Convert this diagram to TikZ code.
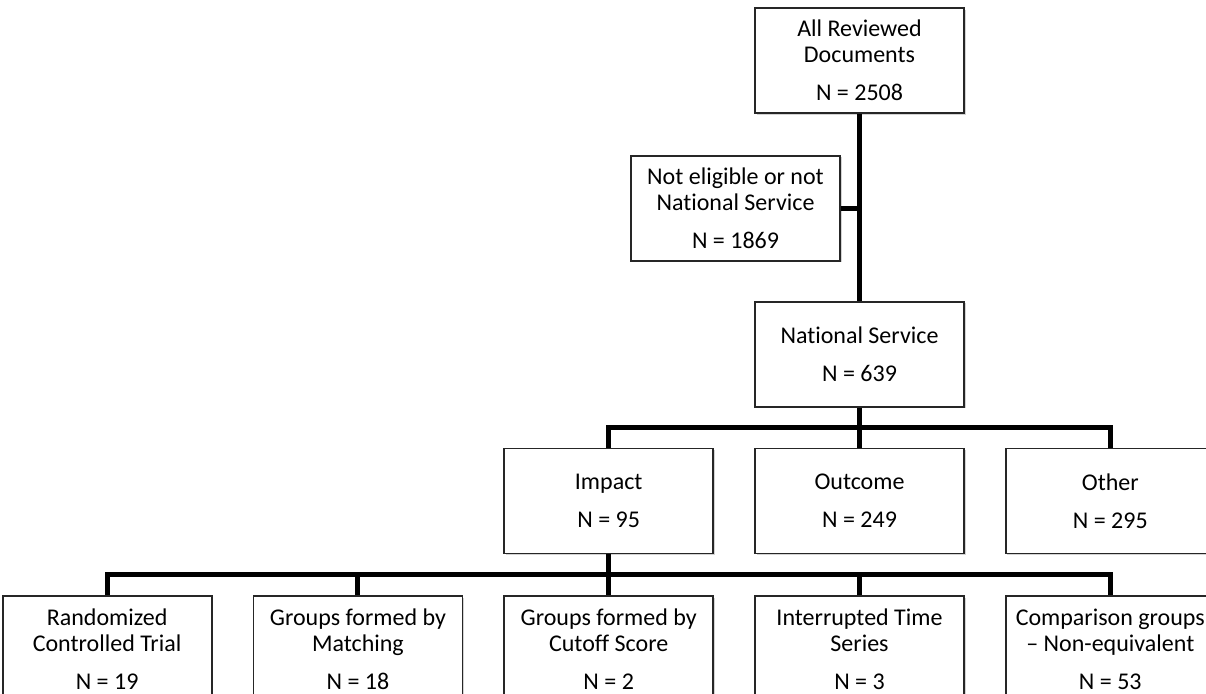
\documentclass[tikz,border=0pt]{standalone}
\usepackage{fontspec}
\setmainfont{Carlito}[Ligatures=NoCommon]
\usetikzlibrary{positioning,shadows}

\tikzset{
  box/.style={draw=black!85, line width=0.9pt, fill=white,
    minimum width=104.5pt, minimum height=52.5pt, align=center,
    font=\fontsize{12}{13}\selectfont,
    drop shadow={shadow xshift=0.8pt, shadow yshift=-0.8pt, opacity=0.35}},
  link/.style={line width=2.5pt, black}
}

\begin{document}
\begin{tikzpicture}[node distance=20pt]
            \useasboundingbox (0,0) rectangle (603pt,-347pt);
            \clip (0,0) rectangle (603pt,-347pt);
            
            % Nodes
            
            \node[box] (all) at (429.75pt,-30.25pt) {All Reviewed\\Documents\\[6pt]N = 2508};
            \node[box, below=20.5pt of all, xshift=-62pt] (excl) {Not eligible or not\\National Service\\[6pt]N = 1869};
            \node[box, below=93.5pt of all] (natl) {National Service\\[6pt]N = 639};
            \node[box, below=of natl] (outc) {Outcome\\[6pt]N = 249};
            \node[box, left=of outc] (imp) {Impact\\[6pt]N = 95};
            \node[box, right=of outc] (oth) {Other\\[6pt]N = 295};
            \node[box, below=20.5pt of imp] (cut) {Groups formed by\\Cutoff Score\\[6pt]N = 2};
            \node[box, left=of cut] (mat) {Groups formed by\\Matching\\[6pt]N = 18};
            \node[box, left=of mat] (rct) {Randomized\\Controlled Trial\\[6pt]N = 19};
            \node[box, right=of cut] (its) {Interrupted Time\\Series\\[6pt]N = 3};
            \node[box, right=of its] (cmp) {Comparison groups\\– Non-equivalent\\[6pt]N = 53};
            \coordinate[below=10pt of natl.south] (bus1);
            \coordinate[below=10.25pt of imp.south] (bus2);
            
            % Edges
            
            \draw[link] (all) -- (natl);
            \draw[link] (excl) -- (excl -| all);
            \draw[link] (natl) -- (outc);
            \draw[link] (imp.north) |- (bus1) -| (oth.north);
            \draw[link] (imp) -- (cut);
            \draw[link] (rct.north) |- (bus2) -| (cmp.north);
            \draw[link] (mat.north) -- (mat.north |- bus2);
            \draw[link] (its.north) -- (its.north |- bus2);
            
\end{tikzpicture}
\end{document}
